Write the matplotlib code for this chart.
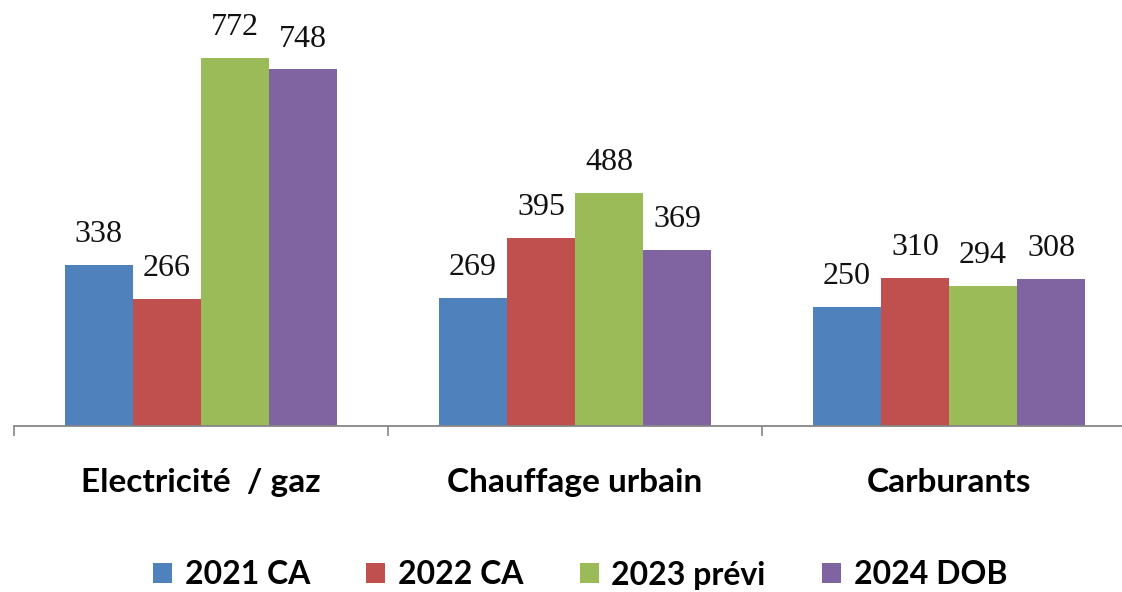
import matplotlib.pyplot as plt
import numpy as np

# Data
categories = ["Electricité  / gaz", "Chauffage urbain", "Carburants"]
series = ["2021 CA", "2022 CA", "2023 prévi", "2024 DOB"]
v2021 = [338, 269, 250]
v2022 = [266, 395, 310]
v2023 = [772, 488, 294]
v2024 = [748, 369, 308]
values = [v2021, v2022, v2023, v2024]
colors = ["#4F81BD", "#C0504D", "#9BBB59", "#8064A2"]

fig = plt.figure(figsize=(11.22, 5.92), dpi=100)
# axis runs slightly past the right edge, like the original
ax = fig.add_axes([14 / 1122, 166 / 592, 1.0, 0.7086])

x = np.arange(len(categories))
w = 0.182
for i, (name, vals, c) in enumerate(zip(series, values, colors)):
    pos = x + (i - 1.5) * w
    bars = ax.bar(pos, vals, width=w, color=c, label=name, zorder=2)
    for b, v in zip(bars, vals):
        ax.annotate(str(v), (b.get_x() + b.get_width() / 2, v),
                    xytext=(0, 16.5), textcoords="offset points",
                    ha="center", va="baseline", fontsize=23,
                    family="Liberation Serif", color="#111111")

ax.set_xlim(-0.5, 2.5)
ax.set_ylim(0, 880)
ax.set_yticks([])
for s in ["left", "right", "top"]:
    ax.spines[s].set_visible(False)
ax.spines["bottom"].set_color("#868686")
ax.spines["bottom"].set_linewidth(1.3)

ax.set_xticks(x)
ax.set_xticklabels(categories, fontsize=24, fontweight="bold", family="Lato")
ax.tick_params(axis="x", which="major", length=0, pad=30)
ax.set_xticks([-0.5, 0.5, 1.5, 2.5], minor=True)
ax.tick_params(axis="x", which="minor", length=7, width=1.2, color="#868686")

leg = fig.legend(loc="center", bbox_to_anchor=(580 / 1122, 17 / 592), ncol=4,
                 frameon=False, prop={"family": "Lato", "weight": "bold", "size": 23},
                 handlelength=0.6, handleheight=0.6, handletextpad=0.4,
                 columnspacing=1.75)

fig.savefig("out.png", dpi=100)
